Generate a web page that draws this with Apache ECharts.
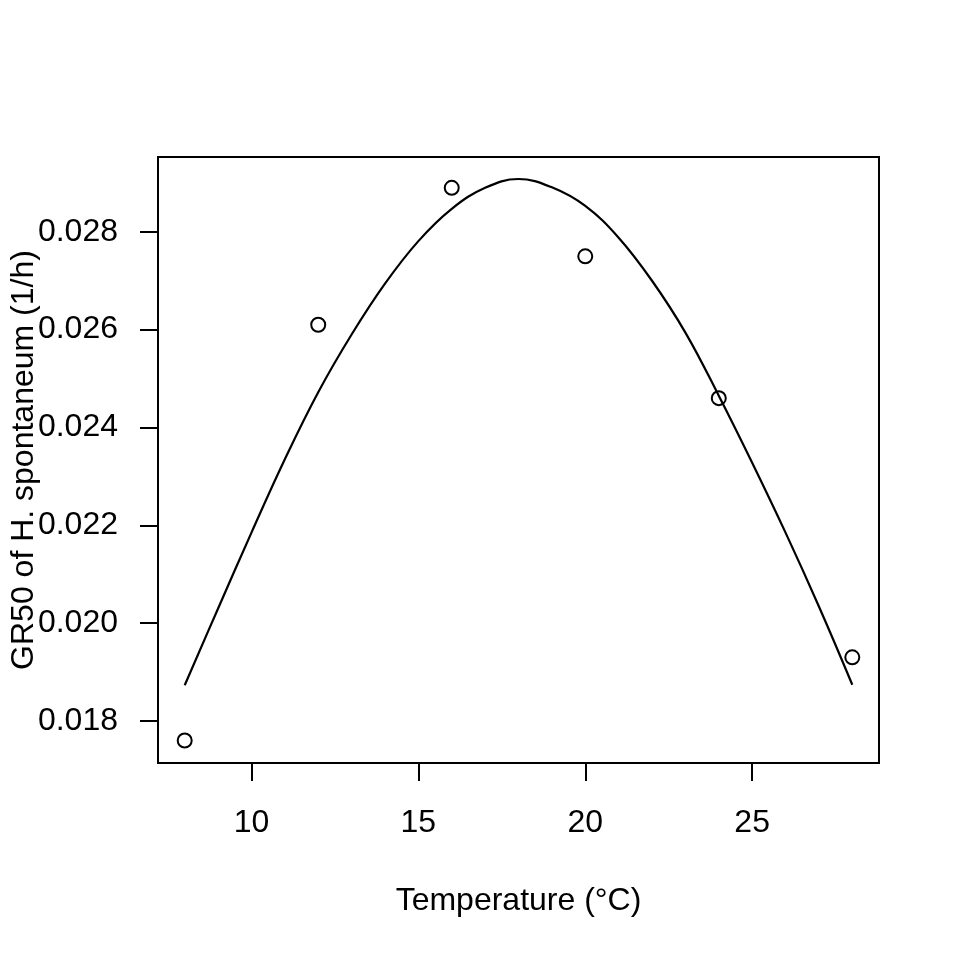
<!DOCTYPE html>
<html lang="en">
<head>
    <meta charset="UTF-8">
    <title>GR50 vs temperature</title>
    <script src="https://cdn.jsdelivr.net/npm/echarts@6/dist/echarts.min.js"></script>
    <style>
        html, body { margin: 0; padding: 0; background: #fff; }
        #main { width: 960px; height: 960px; }
    </style>
</head>
<body>
    <div id="main"></div>
</body>
<script>
    // observed points
    var obsTemp = [8, 12, 16, 20, 24, 28];
    var obsGR50 = [0.0176, 0.0261, 0.0289, 0.0275, 0.0246, 0.0193];

    // fitted curve at each degree
    var curveTemp = [8, 9, 10, 11, 12, 13, 14, 15, 16, 17, 18, 19, 20, 21, 22, 23, 24, 25, 26, 27, 28];
    var curveGR50 = [0.01873, 0.02030, 0.02185, 0.02335, 0.02472, 0.02590, 0.02694, 0.02781, 0.02847, 0.02890,
                     0.02908, 0.02891, 0.02853, 0.02788, 0.02700, 0.02594, 0.02465, 0.02328, 0.02185, 0.02034, 0.01874];

    // tick labels
    var xTicks = [10, 15, 20, 25];
    var yTicks = [0.018, 0.020, 0.022, 0.024, 0.026, 0.028];

    var font = '"Liberation Sans", Arial, Helvetica, sans-serif';

    var obsData = [];
    for (var i = 0; i < obsTemp.length; i++) {
        obsData.push([obsTemp[i], obsGR50[i]]);
    }
    var curveData = [];
    for (var k = 0; k < curveTemp.length; k++) {
        curveData.push([curveTemp[k], curveGR50[k]]);
    }

    var myChart = echarts.init(document.getElementById('main'));

    var option = {
        animation: false,
        backgroundColor: '#fff',
        grid: {
            left: 158, right: 81, top: 157, bottom: 197,
            outerBoundsMode: 'none',
            containLabel: false,
            show: true,
            borderColor: '#000',
            borderWidth: 2,
            backgroundColor: 'transparent'
        },
        xAxis: {
            type: 'value',
            min: 7.2,
            max: 28.8,
            name: 'Temperature (°C)',
            nameLocation: 'middle',
            nameMoveOverlap: false,
            nameGap: 122,
            nameTextStyle: { color: '#000', fontSize: 32, fontFamily: font },
            axisLine: { show: false },
            axisTick: {
                show: true, length: 18, customValues: xTicks,
                lineStyle: { color: '#000', width: 2 }
            },
            axisLabel: {
                show: true, margin: 44, customValues: xTicks,
                color: '#000', fontSize: 32, fontFamily: font
            },
            splitLine: { show: false }
        },
        yAxis: {
            type: 'value',
            min: 0.01714,
            max: 0.02953,
            name: 'GR50 of H. spontaneum (1/h)',
            nameLocation: 'middle',
            nameRotate: 90,
            nameMoveOverlap: false,
            nameGap: 118,
            nameTextStyle: { color: '#000', fontSize: 32, fontFamily: font },
            axisLine: { show: false },
            axisTick: {
                show: true, length: 18, customValues: yTicks,
                lineStyle: { color: '#000', width: 2 }
            },
            axisLabel: {
                show: true, margin: 40, customValues: yTicks,
                color: '#000', fontSize: 32, fontFamily: font,
                formatter: function (v) { return v.toFixed(3); }
            },
            splitLine: { show: false }
        },
        series: [
            {
                name: 'observed',
                type: 'scatter',
                data: obsData,
                symbol: 'circle',
                symbolSize: 14,
                itemStyle: { color: 'rgba(0,0,0,0)', borderColor: '#000', borderWidth: 2, opacity: 1 },
                z: 2
            },
            {
                name: 'fit',
                type: 'line',
                data: curveData,
                smooth: 0.4,
                showSymbol: false,
                lineStyle: { color: '#000', width: 2.2 },
                z: 3
            }
        ]
    };

    myChart.setOption(option);
</script>
</html>
